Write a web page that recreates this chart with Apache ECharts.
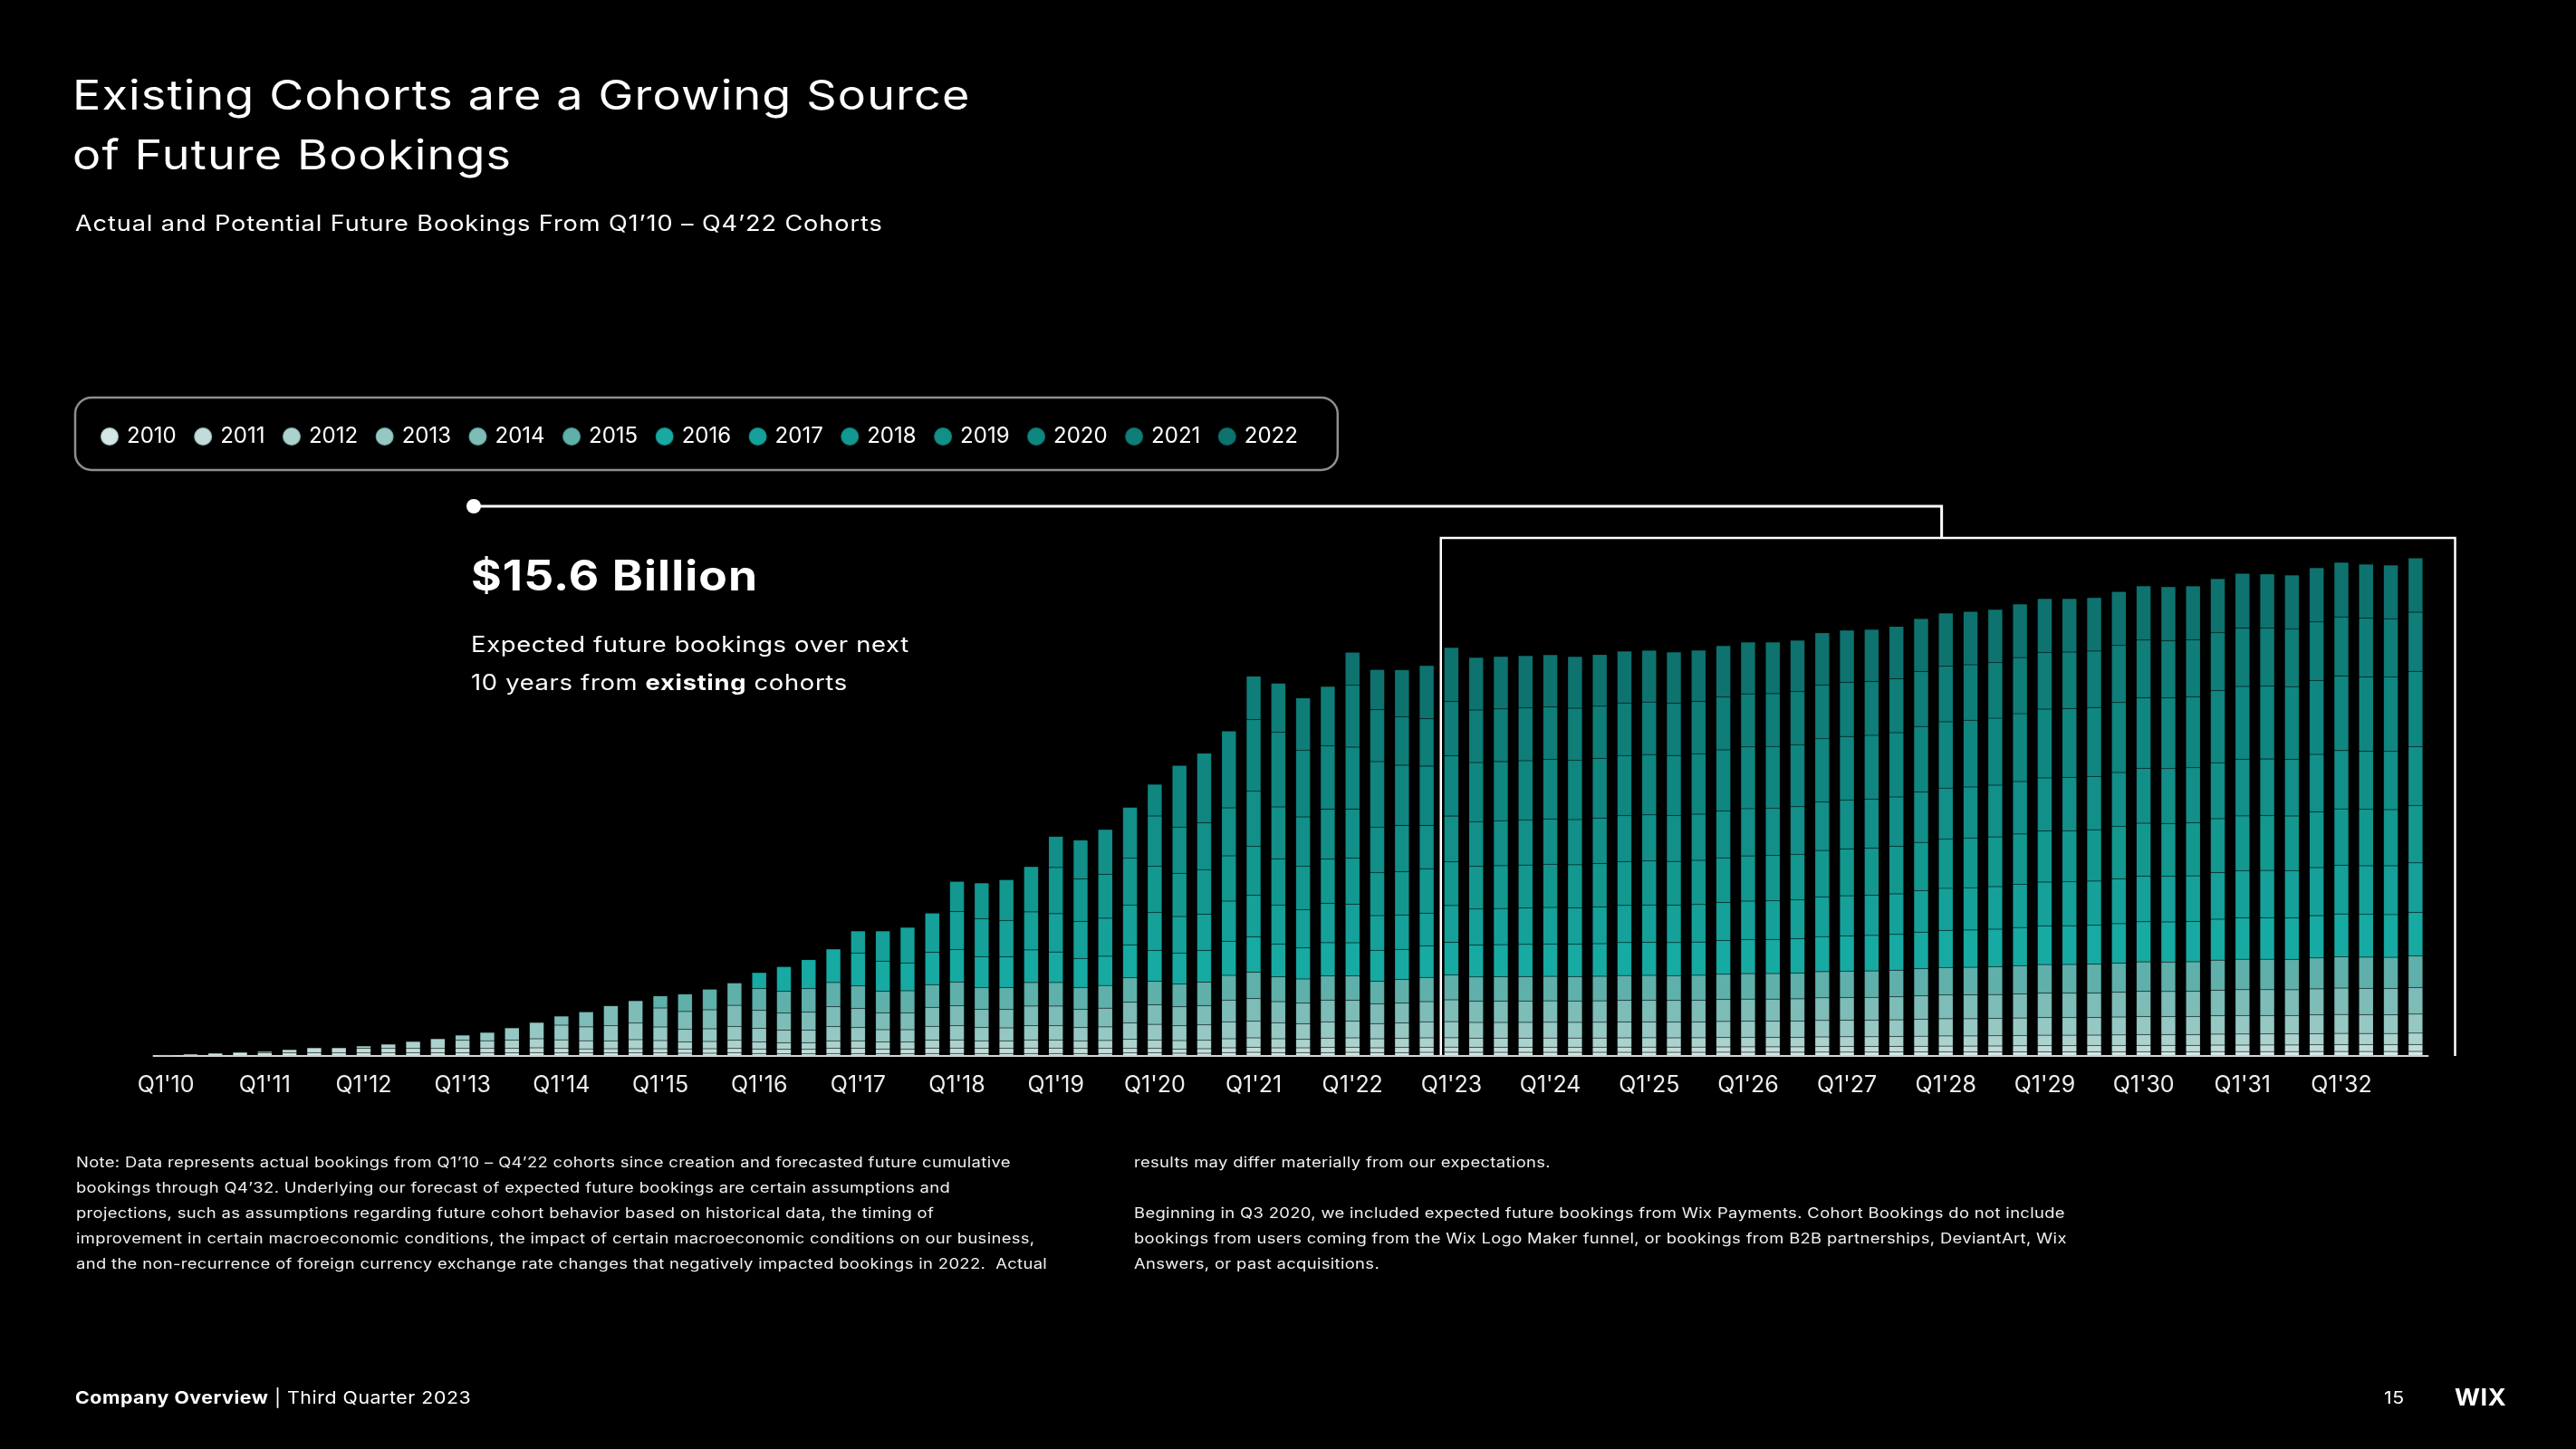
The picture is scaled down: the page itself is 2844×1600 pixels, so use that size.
<!DOCTYPE html>
<html>
<head>
<meta charset="utf-8">
<script src="https://cdn.jsdelivr.net/npm/echarts@6/dist/echarts.min.js"></script>
<style>
html,body{margin:0;padding:0;background:#000;}
#wrap{position:relative;width:2844px;height:1600px;overflow:hidden;}
#chart{position:absolute;left:0;top:0;width:2844px;height:1600px;}
.t{position:absolute;white-space:pre;color:#fff;font-family:Inter,'Noto Sans',sans-serif;line-height:1;transform-origin:0 50%;z-index:2;}
.title{font-size:45px;letter-spacing:1px;transform:scaleX(1.157);left:80px;}
.sub{font-size:24px;letter-spacing:0.8px;transform:scaleX(1.13);left:83px;}
.big{font-size:46px;font-weight:700;letter-spacing:1px;transform:scaleX(1.12);left:520px;}
.call{font-size:24px;letter-spacing:0.6px;transform:scaleX(1.14);left:520px;}
.note{font-size:16px;letter-spacing:0.3px;transform:scaleX(1.15);color:#f0f0f0;}
.foot{font-size:19px;letter-spacing:0.5px;transform:scaleX(1.12);}
</style>
</head>
<body>
<div id="wrap">
<div id="chart"></div>
<div id="texts"></div>
</div>
<script>
// ---------- categories / tick labels ----------
const years = ['10','11','12','13','14','15','16','17','18','19','20','21','22','23','24','25','26','27','28','29','30','31','32'];
const quarters = ['Q1','Q2','Q3','Q4'];
const tickLabels = ["Q1'10","Q1'11","Q1'12","Q1'13","Q1'14","Q1'15","Q1'16","Q1'17","Q1'18","Q1'19","Q1'20","Q1'21","Q1'22","Q1'23","Q1'24","Q1'25","Q1'26","Q1'27","Q1'28","Q1'29","Q1'30","Q1'31","Q1'32"];
const categories = [];
years.forEach(y => quarters.forEach(q => categories.push(q + "'" + y)));

// ---------- cohorts ----------
const cohortNames = ['2010','2011','2012','2013','2014','2015','2016','2017','2018','2019','2020','2021','2022'];
const cohortColors = ['#d3e7e5','#c1dcd9','#acd2ce','#96c8c3','#7dbcb7','#5fb0aa','#17aaa2','#15a199','#13988f','#128f88','#108680','#0f7d78','#0e736f'];

// values per quarter, starting at each cohort's first quarter (Q1 of its year)
const c2010 = [1.3,2,3,4, 3.5,3.5,3.5,3.3, 3.3,3.3,3.3,3.3, 3.3,3.3,3.3,3.7, 3.3,3.3,3.3,3.3, 3.3,3,3,3.3, 2.7,2.3,2.3,2.7, 2.7,2.3,2.3,2.7, 2.7,2.7,2.7,2.7, 2.7,2.7,2.7,3.3, 3.3,3,3,3.7, 4,3.7,3.7,3.7, 4,3.7,3.7,4,
  4.1,4.0,4.0,4.0, 4.0,4.0,4.0,4.0, 4.0,4.0,4.0,4.1, 4.1,4.1,4.1,4.2, 4.2,4.2,4.3,4.3, 4.4,4.4,4.4,4.5, 4.5,4.5,4.6,4.6, 4.7,4.7,4.7,4.8, 4.8,4.8,4.8,4.9, 4.9,4.9,4.9,5.0];
const c2011 = [1.5,3.5,5.5,5.7, 5.2,5,5,5, 5,5,5,5.3, 5,4.5,4.7,4.7, 4.7,4.7,5,5, 5,5,5,5.7, 5.7,5.3,5.3,6, 6,5.7,5.7,6, 6,5.7,5.7,5, 5,4.7,5,5.3, 5.7,5.3,5.3,5.7, 5.7,5.3,5.7,5.7,
  5.7,5.6,5.6,5.6, 5.7,5.7,5.7,5.8, 5.8,5.8,5.8,5.9, 6.0,6.0,6.0,6.1, 6.2,6.2,6.3,6.4, 6.5,6.5,6.6,6.7, 6.8,6.8,6.8,6.9, 7.0,7.0,7.0,7.2, 7.2,7.3,7.3,7.4, 7.5,7.5,7.5,7.6];
const c2012 = [2.5,4.7,7.7,10.7, 9,8.5,9.2,10, 9.5,9,8.7,10, 9,7.7,8,9, 7.7,7.3,7.3,8.3, 8.3,7.7,7.7,8.7, 9,8.3,8.3,9, 9,8.3,8.7,10, 9.3,9.3,9.3,10, 10.3,10,9.3,10.3, 10.3,10,10,10.3,
  10.3,10.1,10.1,10.1, 10.1,10.1,10.1,10.2, 10.3,10.2,10.3,10.4, 10.5,10.5,10.5,10.7, 10.8,10.8,10.9,11.1, 11.2,11.2,11.3,11.4, 11.6,11.6,11.6,11.7, 11.9,11.9,11.9,12.1, 12.2,12.2,12.2,12.3, 12.5,12.4,12.4,12.6];
const c2013 = [5.7,9.2,13.5,18, 16.2,15.3,16.7,18.3, 15,14,14,15.3, 15,14,14,15.7, 14.7,13.7,13.7,15.3, 15.7,14.7,14.3,15.7, 15.7,14.7,15,18.3, 17.3,16.3,17,18.7, 18.3,17.7,17.3,18, 18.3,16.7,17,17.7,
  17.8,17.3,17.3,17.4, 17.4,17.3,17.4,17.5, 17.5,17.4,17.5,17.7, 17.8,17.8,17.9,18.2, 18.3,18.3,18.4,18.7, 19.0,19.0,19.1,19.3, 19.5,19.5,19.5,19.8, 20.0,19.9,20.0,20.3, 20.5,20.4,20.4,20.7, 20.9,20.8,20.7,21.0];
const c2014 = [10,16.6,22,24.7, 21,19.7,21,23.3, 20,18.7,19.7,22, 21,18.7,18.7,21, 22,20,20.3,21.7, 21.7,20,20.7,22.7, 21.7,21,21.3,24, 25,23.3,22.7,24, 23.3,22,22,22.3,
  24.1,23.5,23.6,23.6, 23.7,23.6,23.7,23.9, 24.0,23.9,24.0,24.2, 24.4,24.4,24.6,25.0, 25.1,25.2,25.4,25.8, 26.2,26.3,26.4,26.7, 27.0,27.0,27.1,27.4, 27.8,27.7,27.8,28.2, 28.5,28.5,28.4,28.8, 29.2,29.1,29.0,29.4];
const c2015 = [13.3,19.3,22.7,24.7, 24,24,26,26.7, 25,23.7,24.3,25, 26.3,24,24.3,26, 26,24,25,27, 26,25,26,27.3, 29.3,27.3,26.7,26.7, 26.7,24.7,26,26.7,
  27.4,26.7,26.8,26.9, 27.0,26.9,27.1,27.4, 27.4,27.4,27.5,27.9, 28.1,28.2,28.3,28.9, 29.1,29.2,29.4,30.0, 30.4,30.5,30.7,31.1, 31.5,31.6,31.7,32.1, 32.5,32.5,32.6,33.2, 33.6,33.6,33.5,34.1, 34.5,34.4,34.4,34.9];
const c2016 = [17.7,27.3,32,37, 36.3,33.3,30.7,35.7, 35.7,34.3,34,36, 33.7,32.3,32.3,36.3, 34,34,35,37.7, 39,36,34.3,36.7, 36.7,34.3,33.3,35,
  36.1,35.3,35.5,35.6, 35.8,35.7,36.0,36.4, 36.5,36.5,36.7,37.2, 37.6,37.7,38.0,38.7, 39.0,39.2,39.5,40.4, 41.0,41.2,41.5,42.1, 42.7,42.8,43.0,43.6, 44.3,44.3,44.4,45.2, 45.8,45.9,45.9,46.7, 47.3,47.2,47.2,48.0];
const c2017 = [24.3,33.3,39.3,43.3, 42,42,40,42, 42.3,40.7,42,44, 41.7,40.7,40,44.3, 45.7,43.3,42.3,43.3, 42.7,38.3,38,36,
  40.6,39.7,39.9,40.1, 40.3,40.3,40.6,41.0, 41.2,41.2,41.4,42.0, 42.5,42.6,42.9,43.8, 44.2,44.4,44.8,45.7, 46.4,46.7,47.0,47.7, 48.4,48.5,48.8,49.6, 50.3,50.3,50.5,51.4, 52.1,52.2,52.2,53.1, 53.8,53.8,53.8,54.7];
const c2018 = [33.3,39.3,45,50, 51,47,48.3,51.7, 51,47.7,49,50, 54,51,47.7,49, 50.7,47.3,47.7,49,
  48.2,47.1,47.3,47.5, 47.7,47.5,47.9,48.4, 48.6,48.4,48.8,49.4, 49.9,50.0,50.3,51.3, 51.7,51.9,52.4,53.4, 54.2,54.5,54.9,55.6, 56.4,56.5,56.7,57.6, 58.4,58.4,58.6,59.6, 60.4,60.4,60.4,61.4, 62.2,62.1,62.1,63.1];
const c2019 = [34.3,43,49.7,56.3, 55.7,51,52,53, 61,57.3,54.7,55, 54,50,51,47.7,
  50.6,49.5,49.7,49.8, 50.0,49.9,50.2,50.7, 50.9,50.7,51.0,51.7, 52.2,52.3,52.6,53.6, 54.0,54.2,54.6,55.7, 56.5,56.8,57.1,57.9, 58.7,58.8,58.9,59.8, 60.6,60.6,60.8,61.8, 62.6,62.6,62.5,63.6, 64.4,64.2,64.2,65.2];
const c2020 = [35,68,76.7,84.7, 79,82.3,73.3,70, 68.7,72.7,66.7,65.7,
  66.7,65.1,65.3,65.5, 65.7,65.4,65.8,66.4, 66.6,66.3,66.7,67.5, 68.1,68.1,68.5,69.7, 70.2,70.4,70.9,72.3, 73.2,73.6,73.9,74.9, 75.8,75.9,76.1,77.1, 78.1,78.0,78.2,79.5, 80.4,80.3,80.2,81.5, 82.4,82.2,82.1,83.3];
const c2021 = [48,54.3,58,65.7, 68.3,57.3,53.3,52.3,
  59.7,58.1,58.1,58.1, 58.0,57.6,57.7,58.1, 58.0,57.6,57.7,58.2, 58.6,58.4,58.5,59.4, 59.6,59.5,59.7,60.7, 61.3,61.4,61.4,62.0, 62.6,62.4,62.3,63.0, 63.6,63.3,63.2,64.0, 64.5,64.2,63.9,64.7, 65.2,64.8,64.5,65.2];
const c2022 = [36.3,44.3,52,58.7,
  59.7,58.0,57.9,57.7, 57.6,57.0,57.0,57.3, 57.1,56.6,56.6,56.9, 57.2,56.9,56.9,57.6, 57.7,57.5,57.6,58.4, 58.8,58.7,58.7,59.1, 59.5,59.2,59.0,59.5, 59.9,59.5,59.2,59.8, 60.2,59.8,59.3,59.9, 60.2,59.7,59.2,59.8];
const cohortValues = [c2010,c2011,c2012,c2013,c2014,c2015,c2016,c2017,c2018,c2019,c2020,c2021,c2022];

// ---------- texts ----------
const titleLines = ['Existing Cohorts are a Growing Source', 'of Future Bookings'];
const subtitle = 'Actual and Potential Future Bookings From Q1\u201910 \u2013 Q4\u201922 Cohorts';
const calloutValue = '$15.6 Billion';
const calloutLines = ['Expected future bookings over next', '10 years from <b>existing</b> cohorts'];
const noteLeft = [
  'Note: Data represents actual bookings from Q1\u201910 \u2013 Q4\u201922 cohorts since creation and forecasted future cumulative',
  'bookings through Q4\u201932. Underlying our forecast of expected future bookings are certain assumptions and',
  'projections, such as assumptions regarding future cohort behavior based on historical data, the timing of',
  'improvement in certain macroeconomic conditions, the impact of certain macroeconomic conditions on our business,',
  'and the non-recurrence of foreign currency exchange rate changes that negatively impacted bookings in 2022.  Actual'
];
const noteRight = [
  'results may differ materially from our expectations.',
  '',
  'Beginning in Q3 2020, we included expected future bookings from Wix Payments. Cohort Bookings do not include',
  'bookings from users coming from the Wix Logo Maker funnel, or bookings from B2B partnerships, DeviantArt, Wix',
  'Answers, or past acquisitions.'
];

// ---------- slide text (HTML) ----------
const box = document.getElementById('texts');
function addText(cls, html, top, left, extraStyle) {
  const d = document.createElement('div');
  d.className = 't ' + cls;
  d.innerHTML = html;
  d.style.top = top + 'px';
  if (left !== null && left !== undefined) d.style.left = left + 'px';
  if (extraStyle) d.setAttribute('style', d.getAttribute('style') + ';' + extraStyle);
  box.appendChild(d);
}
addText('title', titleLines[0], 104 - 22.5);
addText('title', titleLines[1], 170 - 22.5);
addText('sub', subtitle, 247 - 12);
addText('big', calloutValue, 635 - 23);
addText('call', calloutLines[0], 712 - 12);
addText('call', calloutLines[1], 754 - 12);
noteLeft.forEach((t, i) => addText('note', t, 1283 + i * 28 - 8, 84));
noteRight.forEach((t, i) => { if (t) addText('note', t, 1283 + i * 28 - 8, 1252); });
addText('foot', '<b>Company Overview</b> | Third Quarter 2023', 1543 - 9.5, 83);
addText('foot', '15', 1543 - 9.5, 2632);
addText('foot', '<b>WIX</b>', 1543 - 12, 2710, 'font-size:25px;letter-spacing:0.5px;transform:scaleX(1.08);');

// ---------- chart ----------
const FONT = "Inter, 'Noto Sans', sans-serif";
const chart = echarts.init(document.getElementById('chart'), null, {renderer: 'canvas'});

const series = cohortNames.map((name, i) => {
  const lead = new Array(i * 4).fill(null);
  return {
    name: name,
    type: 'bar',
    stack: 'total',
    barWidth: 16,
    data: lead.concat(cohortValues[i]),
    itemStyle: {color: cohortColors[i], borderColor: 'rgba(0,40,40,0.22)', borderWidth: 0.5},
    emphasis: {disabled: true},
    animation: false
  };
});

const option = {
  backgroundColor: '#000000',
  animation: false,
  grid: {left: 169.5, width: 2511, top: 566, height: 600, containLabel: false, outerBoundsMode: 'none'},
  legend: {
    left: 83, top: 439,
    padding: [28, 44, 22, 27],
    borderColor: '#8e8e8e', borderWidth: 2.5, borderRadius: 18,
    itemWidth: 20, itemHeight: 20, itemGap: 18.5, icon: 'circle',
    selectedMode: false,
    textStyle: {color: '#ffffff', fontSize: 24, fontFamily: FONT, lineHeight: 30, padding: [0, 0, 0, 4]},
    data: cohortNames
  },
  xAxis: {
    type: 'category',
    data: categories,
    axisLine: {show: true, lineStyle: {color: '#d6d6d6', width: 2}},
    axisTick: {show: false},
    axisLabel: {
      interval: (idx, val) => tickLabels.indexOf(val) >= 0,
      color: '#eeeeee', fontSize: 25, fontFamily: FONT, margin: 20
    }
  },
  yAxis: {type: 'value', min: 0, max: 600, show: false, splitLine: {show: false}},
  series: series
};
chart.setOption(option);

// annotation bracket around forecast bars
const xA = chart.convertToPixel({xAxisIndex: 0}, categories[51]);
const xB = chart.convertToPixel({xAxisIndex: 0}, categories[52]);
const xLast = chart.convertToPixel({xAxisIndex: 0}, categories[categories.length - 1]);
const yBase = chart.convertToPixel({yAxisIndex: 0}, 0);
const band = xB - xA;
const rectL = (xA + xB) / 2 + 2;
const rectR = xLast + band * 1.6;
const rectT = 594;
const midX = (rectL + rectR) / 2 - 7;
const dotX = 523, dotY = 559;
chart.setOption({
  graphic: [
    {type: 'polyline', silent: true, shape: {points: [[rectL, yBase], [rectL, rectT], [rectR, rectT], [rectR, yBase]]},
      style: {stroke: '#ffffff', lineWidth: 2.5, fill: null}},
    {type: 'polyline', silent: true, shape: {points: [[dotX, dotY], [midX, dotY], [midX, rectT]]},
      style: {stroke: '#ffffff', lineWidth: 3, fill: null}},
    {type: 'circle', silent: true, shape: {cx: dotX, cy: dotY, r: 8}, style: {fill: '#ffffff'}}
  ]
});
</script>
</body>
</html>
